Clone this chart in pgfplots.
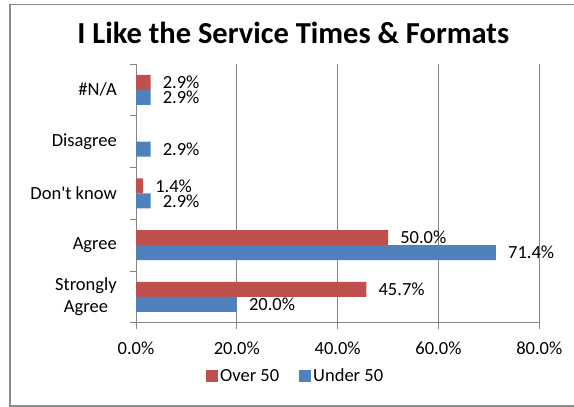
\documentclass[border=0pt]{standalone}
\usepackage{fontspec}
\setmainfont{Carlito}
\usepackage{pgfplots}
\pgfplotsset{compat=1.18}
\definecolor{overred}{HTML}{C0504D}
\definecolor{underblue}{HTML}{4F81BD}
\definecolor{axgray}{HTML}{868686}
\definecolor{framegray}{HTML}{8C8C8C}

\begin{document}
\begin{tikzpicture}[x=1pt,y=1pt]
\useasboundingbox (0,0) rectangle (574,407);
% outer chart frame (runs off the right edge)
\draw[framegray,line width=1.4pt] (580,402.3) -- (10,402.3) -- (10,1) -- (580,1);
\begin{axis}[
  at={(136pt,84.3pt)},anchor=south west,
  scale only axis,
  width=403.3pt,height=258.7pt,
  xbar,bar width=15pt,
  xmin=0,xmax=80,ymin=-0.5,ymax=4.5,
  axis x line*=bottom,axis y line*=left,
  axis line style={axgray,line width=0.8pt,-},
  xtick={0,20,40,60,80},
  xticklabels={0.0\%,20.0\%,40.0\%,60.0\%,80.0\%},
  ytick={0,1,2,3,4},
  yticklabels={{Strongly\\Agree},Agree,Don\textquotesingle t know,Disagree,\#N/A},
  minor ytick={-0.5,0.5,1.5,2.5,3.5,4.5},
  tick align=outside,
  major tick length=6pt,minor tick length=6pt,
  major x tick style={axgray,line width=0.8pt},
  major y tick style={draw=none},
  minor y tick style={axgray,line width=0.8pt},
  xmajorgrids,
  grid style={axgray,line width=0.8pt},
  tick label style={font=\fontsize{18.5}{22}\selectfont},
  yticklabel style={align=center,inner sep=0pt,xshift=-13pt},
  xticklabel style={inner sep=0pt,yshift=-13pt},
  /pgf/number format/assume math mode=true,
  nodes near coords={\pgfmathprintnumber[fixed,fixed zerofill,precision=1]{\pgfplotspointmeta}\%},
  every node near coord/.append style={font=\fontsize{18.5}{22}\selectfont,anchor=west,inner sep=0pt,xshift=12pt,black},
  title={I Like the Service Times \& Formats},
  title style={font=\bfseries\fontsize{30.5}{34}\selectfont,at={(axis description cs:0.39,1.057)},anchor=base,inner sep=0pt},
  legend style={draw=none,fill=none,inner sep=0pt,at={(axis description cs:0.1736,-0.206)},anchor=west,
    legend columns=2,font=\fontsize{18.5}{22}\selectfont,
    nodes={inner sep=2pt},
    /tikz/every even column/.append style={column sep=18pt}},
  legend image code/.code={\fill[#1] (0pt,-6pt) rectangle (12pt,6pt);},
  clip=false]
\addplot[fill=overred,draw=none,bar shift=7.5pt] coordinates {
(45.7,0) (50.0,1) (1.4,2) (2.9,4)};
\addlegendentry{Over 50}
\addplot[fill=underblue,draw=none,bar shift=-7.5pt] coordinates {
(20.0,0) (71.4,1) (2.9,2) (2.9,3) (2.9,4)};
\addlegendentry{Under 50}
\end{axis}
\end{tikzpicture}
\end{document}
